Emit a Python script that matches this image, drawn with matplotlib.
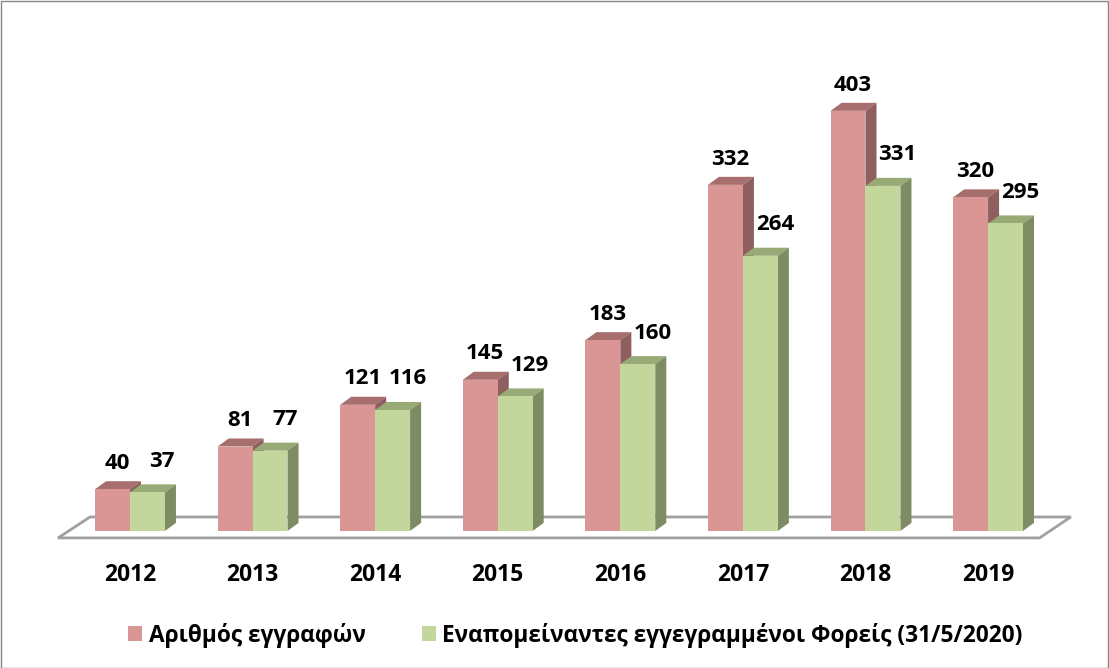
import matplotlib.pyplot as plt
from matplotlib.patches import Polygon, Rectangle, Patch
import numpy as np

years = ["2012", "2013", "2014", "2015", "2016", "2017", "2018", "2019"]
registrations = [40, 81, 121, 145, 183, 332, 403, 320]
remaining = [37, 77, 116, 129, 160, 264, 331, 295]
series_names = ["Αριθμός εγγραφών", "Εναπομείναντες εγγεγραμμένοι Φορείς (31/5/2020)"]

plt.rcParams['font.family'] = ["Open Sans", "DejaVu Sans"]

# front, top, side colours for each series
colors = [("#D99694", "#A66F6D", "#8E5F5E"), ("#C3D69B", "#98AA76", "#7E8B63")]

W, H = 1109, 668
fig = plt.figure(figsize=(W / 100, H / 100), dpi=100)
fig.patch.set_facecolor("white")
fig.patches.append(Rectangle((0.5 / W, 0.5 / H), 1 - 1.5 / W, 1 - 1.5 / H, transform=fig.transFigure,
                             fill=False, edgecolor="#868686", lw=1))

# axes placed so that 1 category = ~122.6 px and 1 unit = ~1.042 px
ax = fig.add_axes([50.3 / W, (H - 557) / H, (1080 - 50.3) / W, (557 - 41) / H])
ax.set_xlim(-0.65, 7.75)
ax.set_ylim(-25, 470)
ax.axis('off')

w = 0.285            # bar width
dx, dy = 0.09, 7.7   # depth offset of the fake 3d

# floor
floor = Polygon([(-0.587, -6.7), (-0.326, 13.4), (7.675, 13.4), (7.42, -6.7)], closed=True,
                facecolor="white", edgecolor="#A0A0A0", lw=2, zorder=1)
ax.add_patch(floor)

label_dx = [0.04, 0.12]
label_dy = [7, 12]
x = np.arange(len(years))
for s, vals in enumerate([registrations, remaining]):
    front, top, side = colors[s]
    lefts = x - w + s * w
    z = 2 + s
    ax.bar(lefts, vals, width=w, align='edge', color=front, zorder=z + 0.5)
    for x0, v in zip(lefts, vals):
        ax.add_patch(Polygon([(x0, v), (x0 + w, v), (x0 + w + dx, v + dy), (x0 + dx, v + dy)],
                             closed=True, facecolor=top, edgecolor='none', zorder=z))
        ax.add_patch(Polygon([(x0 + w, 0), (x0 + w, v), (x0 + w + dx, v + dy), (x0 + w + dx, dy)],
                             closed=True, facecolor=side, edgecolor='none', zorder=z))
        ax.text(x0 + w / 2 + label_dx[s], v + dy + label_dy[s], str(v), ha='center', va='bottom',
                fontsize=16, fontweight='bold', color='black', zorder=10)

for i, yr in enumerate(years):
    ax.text(i, -42, yr, ha='center', va='center', fontsize=16.5, fontweight='bold', clip_on=False)

handles = [Patch(facecolor=colors[0][0]), Patch(facecolor=colors[1][0])]
fig.legend(handles, series_names, loc='center', bbox_to_anchor=(0.519, (H - 635) / H), ncol=2,
           frameon=False, handlelength=0.6, handleheight=0.6, handletextpad=0.3,
           columnspacing=2.5, prop={'size': 16.3, 'weight': 'bold'})

fig.savefig("out.png", dpi=100)
